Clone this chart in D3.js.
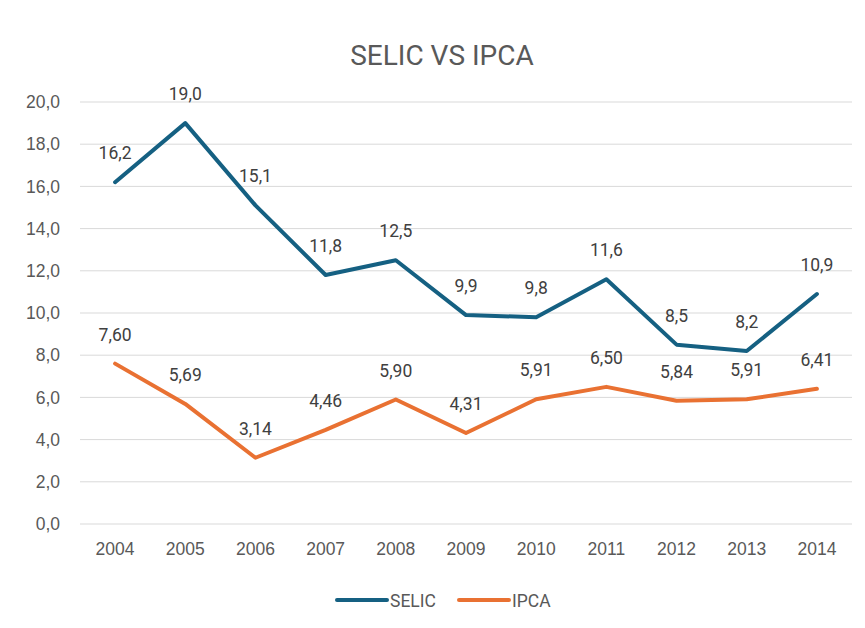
<!DOCTYPE html>
<html>
<head>
<meta charset="utf-8">
<script src="https://cdn.jsdelivr.net/npm/d3@7"></script>
<style>
  html, body { margin: 0; padding: 0; background: #fff; }
  svg { display: block; font-family: Roboto, "Liberation Sans", sans-serif; }
</style>
</head>
<body>
<svg id="chart" width="865" height="628"></svg>
<script>
// ── Data ─────────────────────────────────────────────────────────────
const years = ['2004','2005','2006','2007','2008','2009','2010','2011','2012','2013','2014'];
const selic = [16.2, 19.0, 15.1, 11.8, 12.5, 9.9, 9.8, 11.6, 8.5, 8.2, 10.9];
const ipca  = [7.60, 5.69, 3.14, 4.46, 5.90, 4.31, 5.91, 6.50, 5.84, 5.91, 6.41];
const yTicks = [0, 2, 4, 6, 8, 10, 12, 14, 16, 18, 20];

const series = [
  { name: 'SELIC', values: selic, color: '#156082', digits: 1 },
  { name: 'IPCA',  values: ipca,  color: '#E97132', digits: 2 }
];

// ── Layout ───────────────────────────────────────────────────────────
const W = 865, H = 628;
const m = { top: 102, right: 13, bottom: 104, left: 80 };
const FS = 17.5;

const svg = d3.select('#chart');

const x = d3.scaleBand().domain(years).range([m.left, W - m.right]);
const y = d3.scaleLinear().domain([0, 20]).range([H - m.bottom, m.top]);
const cx = d => x(d) + x.bandwidth() / 2;
const fmt = (v, n) => v.toFixed(n).replace('.', ',');

// title
svg.append('text')
  .attr('x', 442).attr('y', 65)
  .attr('text-anchor', 'middle')
  .attr('font-size', 28)
  .attr('fill', '#595959')
  .text('SELIC VS IPCA');

// gridlines
svg.append('g')
  .selectAll('line')
  .data(yTicks)
  .join('line')
  .attr('x1', m.left).attr('x2', W - m.right)
  .attr('y1', d => y(d)).attr('y2', d => y(d))
  .attr('stroke', '#d9d9d9').attr('stroke-width', 1);

// y axis
const yAxis = svg.append('g')
  .attr('transform', `translate(${m.left},0)`)
  .call(d3.axisLeft(y).tickValues(yTicks).tickSize(0).tickPadding(20).tickFormat(d => fmt(d, 1)));
yAxis.select('.domain').remove();
yAxis.selectAll('text').attr('font-size', FS).attr('fill', '#595959').attr('font-family', null);

// x axis
const xAxis = svg.append('g')
  .attr('transform', `translate(0,${H - m.bottom})`)
  .call(d3.axisBottom(x).tickSize(0).tickPadding(19));
xAxis.select('.domain').remove();
xAxis.selectAll('text').attr('font-size', FS).attr('fill', '#595959').attr('font-family', null);

// lines
const line = d3.line().x((d, i) => cx(years[i])).y(d => y(d));

series.forEach(s => {
  svg.append('path')
    .datum(s.values)
    .attr('fill', 'none')
    .attr('stroke', s.color)
    .attr('stroke-width', 4)
    .attr('stroke-linejoin', 'round')
    .attr('stroke-linecap', 'round')
    .attr('d', line);

  svg.append('g')
    .selectAll('text')
    .data(s.values)
    .join('text')
    .attr('x', (d, i) => cx(years[i]))
    .attr('y', d => y(d) - 23)
    .attr('text-anchor', 'middle')
    .attr('font-size', FS)
    .attr('fill', '#404040')
    .text(d => fmt(d, s.digits));
});

// legend
const legend = svg.append('g').attr('transform', 'translate(0,600)');
const legendX = [337, 459];
series.forEach((s, i) => {
  legend.append('line')
    .attr('x1', legendX[i]).attr('x2', legendX[i] + 50)
    .attr('stroke', s.color).attr('stroke-width', 4).attr('stroke-linecap', 'round');
  legend.append('text')
    .attr('x', legendX[i] + 53).attr('y', 6.5)
    .attr('font-size', FS).attr('fill', '#595959')
    .text(s.name);
});
</script>
</body>
</html>
